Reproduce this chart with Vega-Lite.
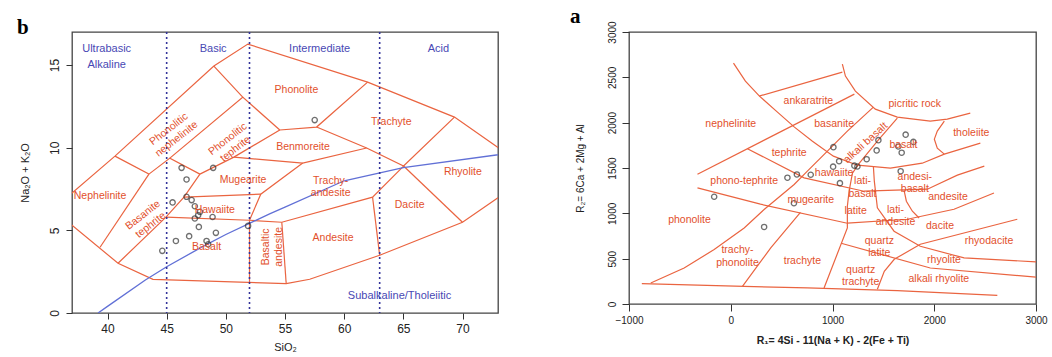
{
"$schema":"https://vega.github.io/schema/vega-lite/v6.json",
"padding":{"left":16,"top":5,"right":8,"bottom":0},
"spacing":70,
"config":{"view":{"stroke":"#444","strokeWidth":1.3},"font":"Liberation Sans",
"axis":{"grid":false,"domain":false,"labelFlush":false,"tickColor":"#333","labelColor":"#222","titleColor":"#222","labelFont":"Liberation Sans","titleFont":"Liberation Sans","titleFontWeight":"normal","tickSize":6}},
"datasets":{
"tasLines":[
{"id":"t1","o":0,"x":35,"y":6.02},{"id":"t1","o":1,"x":37.0,"y":7.25},{"id":"t1","o":2,"x":40.63,"y":9.49},{"id":"t1","o":3,"x":48.99,"y":14.94},{"id":"t1","o":4,"x":51.86,"y":16.27},{"id":"t1","o":5,"x":61.98,"y":13.97},{"id":"t1","o":6,"x":69.32,"y":11.85},{"id":"t1","o":7,"x":75,"y":9.02},
{"id":"t2","o":0,"x":35,"y":6.49},{"id":"t2","o":1,"x":37.0,"y":5.31},{"id":"t2","o":2,"x":40.89,"y":3.01},{"id":"t2","o":3,"x":43.84,"y":2.04},{"id":"t2","o":4,"x":55.1,"y":1.78},{"id":"t2","o":5,"x":57.09,"y":2.04},{"id":"t2","o":6,"x":63.0,"y":3.49},{"id":"t2","o":7,"x":70.0,"y":5.49},{"id":"t2","o":8,"x":75,"y":7.96},
{"id":"t3","o":0,"x":39.37,"y":3.98},{"id":"t3","o":1,"x":43.5,"y":8.4},
{"id":"t4","o":0,"x":40.63,"y":9.49},{"id":"t4","o":1,"x":43.5,"y":8.4},{"id":"t4","o":2,"x":45.27,"y":9.37},{"id":"t4","o":3,"x":47.81,"y":8.4},
{"id":"t5","o":0,"x":45.27,"y":9.37},{"id":"t5","o":1,"x":51.43,"y":13.06},{"id":"t5","o":2,"x":48.99,"y":14.94},
{"id":"t6","o":0,"x":40.89,"y":3.01},{"id":"t6","o":1,"x":44.94,"y":5.8},{"id":"t6","o":2,"x":46.46,"y":7.01},{"id":"t6","o":3,"x":47.81,"y":8.4},
{"id":"t7","o":0,"x":47.81,"y":8.4},{"id":"t7","o":1,"x":50.68,"y":9.43},{"id":"t7","o":2,"x":54.56,"y":11.07},
{"id":"t8","o":0,"x":51.43,"y":13.06},{"id":"t8","o":1,"x":54.56,"y":11.07},
{"id":"t9","o":0,"x":54.56,"y":11.07},{"id":"t9","o":1,"x":57.67,"y":11.25},{"id":"t9","o":2,"x":61.98,"y":13.97},
{"id":"t10","o":0,"x":57.67,"y":11.25},{"id":"t10","o":1,"x":61.9,"y":9.98},{"id":"t10","o":2,"x":65.02,"y":8.89},{"id":"t10","o":3,"x":69.32,"y":11.85},
{"id":"t11","o":0,"x":50.68,"y":9.43},{"id":"t11","o":1,"x":56.5,"y":9.07},{"id":"t11","o":2,"x":61.9,"y":9.98},
{"id":"t12","o":0,"x":56.5,"y":9.07},{"id":"t12","o":1,"x":52.95,"y":7.19},{"id":"t12","o":2,"x":52.0,"y":5.61},
{"id":"t13","o":0,"x":46.46,"y":7.01},{"id":"t13","o":1,"x":52.95,"y":7.19},
{"id":"t14","o":0,"x":44.94,"y":5.8},{"id":"t14","o":1,"x":52.0,"y":5.61},{"id":"t14","o":2,"x":54.73,"y":5.49},{"id":"t14","o":3,"x":62.4,"y":7.01},{"id":"t14","o":4,"x":65.02,"y":8.89},
{"id":"t15","o":0,"x":52.0,"y":5.61},{"id":"t15","o":1,"x":52.0,"y":1.8},
{"id":"t16","o":0,"x":54.73,"y":5.49},{"id":"t16","o":1,"x":55.1,"y":1.78},
{"id":"t17","o":0,"x":62.4,"y":7.01},{"id":"t17","o":1,"x":63.0,"y":3.49},
{"id":"t18","o":0,"x":65.02,"y":8.89},{"id":"t18","o":1,"x":70.0,"y":5.49}
],
"ib":[{"o":0,"x":39.2,"y":0},{"o":1,"x":40,"y":0.4},{"o":2,"x":43.2,"y":2},{"o":3,"x":45,"y":2.8},{"o":4,"x":48,"y":4},{"o":5,"x":50,"y":4.75},{"o":6,"x":53.7,"y":6},{"o":7,"x":55,"y":6.4},{"o":8,"x":60,"y":8},{"o":9,"x":65,"y":8.8},{"o":10,"x":77.4,"y":10}],
"divs":[{"x":45},{"x":52},{"x":63}],
"tasPts":[{"x":57.51,"y":11.67},{"x":46.26,"y":8.78},{"x":48.93,"y":8.78},{"x":46.68,"y":8.08},{"x":45.5,"y":6.69},{"x":46.68,"y":7.03},{"x":47.11,"y":6.83},{"x":47.38,"y":6.46},{"x":47.81,"y":6.12},{"x":47.66,"y":5.92},{"x":47.38,"y":5.72},{"x":48.88,"y":5.81},{"x":47.72,"y":5.21},{"x":51.88,"y":5.27},{"x":45.78,"y":4.36},{"x":46.9,"y":4.65},{"x":49.16,"y":4.85},{"x":48.37,"y":4.36},{"x":48.51,"y":4.16},{"x":44.63,"y":3.76}],
"tasLab":[{"t":"Phonolite","x":55.97,"y":13.48},{"t":"Trachyte","x":63.98,"y":11.53},{"t":"Benmoreite","x":56.52,"y":10.02},{"t":"Rhyolite","x":70.03,"y":8.54},{"t":"Trachy-\nandesite","x":58.86,"y":7.99},{"t":"Dacite","x":65.53,"y":6.52},{"t":"Andesite","x":59.06,"y":4.51},{"t":"Mugearite","x":51.46,"y":8.04},{"t":"Hawaiite","x":49.07,"y":6.22},{"t":"Basalt","x":48.37,"y":4.0},{"t":"Nephelinite","x":39.37,"y":7.07}],
"tasLabDiag":[{"t":"Basanite\ntephrite","x":43.0,"y":5.92},{"t":"Phonolitic\nnephelinite","x":45.19,"y":11.12},{"t":"Phonolitic\ntephrite","x":50.17,"y":10.52}],
"tasLabVert":[{"t":"Basaltic\nandesite","x":53.43,"y":4.0}],
"tasBlue":[{"t":"Ultrabasic","x":39.93,"y":15.97},{"t":"Alkaline","x":39.93,"y":15.0},{"t":"Basic","x":48.93,"y":15.97},{"t":"Intermediate","x":57.93,"y":15.97},{"t":"Acid","x":67.97,"y":15.97},{"t":"Subalkaline/Tholeiitic","x":64.68,"y":1.01}],
"rLines":[
{"id":"a1","o":0,"x":279,"y":2293},{"id":"a1","o":1,"x":1097,"y":2558},
{"id":"a2","o":0,"x":27,"y":2657},{"id":"a2","o":1,"x":144,"y":2458},{"id":"a2","o":2,"x":282,"y":2293},{"id":"a2","o":3,"x":459,"y":2116},{"id":"a2","o":4,"x":626,"y":1951},{"id":"a2","o":5,"x":803,"y":1796},{"id":"a2","o":6,"x":1009,"y":1631},{"id":"a2","o":7,"x":1245,"y":1531},{"id":"a2","o":8,"x":1569,"y":1498},{"id":"a2","o":9,"x":1882,"y":1553},{"id":"a2","o":10,"x":2099,"y":1653},{"id":"a2","o":11,"x":2453,"y":1774},
{"id":"a3","o":0,"x":-327,"y":1432},{"id":"a3","o":1,"x":1215,"y":2315},
{"id":"a4","o":0,"x":1097,"y":2646},{"id":"a4","o":1,"x":1127,"y":2514},{"id":"a4","o":2,"x":1225,"y":2348},{"id":"a4","o":3,"x":1421,"y":2149},{"id":"a4","o":4,"x":1637,"y":2061},{"id":"a4","o":5,"x":1961,"y":2017},{"id":"a4","o":6,"x":2128,"y":2039},{"id":"a4","o":7,"x":2354,"y":2105},
{"id":"a5","o":0,"x":2099,"y":2017},{"id":"a5","o":1,"x":2030,"y":1907},{"id":"a5","o":2,"x":2001,"y":1818},{"id":"a5","o":3,"x":2030,"y":1719},{"id":"a5","o":4,"x":2099,"y":1653},
{"id":"a7","o":0,"x":-874,"y":225},{"id":"a7","o":1,"x":132,"y":195},{"id":"a7","o":2,"x":753,"y":177},{"id":"a7","o":3,"x":1637,"y":148},{"id":"a7","o":4,"x":2620,"y":96},
{"id":"a8","o":0,"x":-786,"y":232},{"id":"a8","o":1,"x":-458,"y":397},{"id":"a8","o":2,"x":-163,"y":601},{"id":"a8","o":3,"x":132,"y":839},{"id":"a8","o":4,"x":328,"y":1042},{"id":"a8","o":5,"x":623,"y":1318},{"id":"a8","o":6,"x":753,"y":1465},{"id":"a8","o":7,"x":950,"y":1686},{"id":"a8","o":8,"x":1146,"y":1907},{"id":"a8","o":9,"x":1402,"y":2172},
{"id":"a9","o":0,"x":-327,"y":1281},{"id":"a9","o":1,"x":292,"y":1101},{"id":"a9","o":2,"x":1146,"y":891},{"id":"a9","o":3,"x":1736,"y":935},{"id":"a9","o":4,"x":2194,"y":1045},{"id":"a9","o":5,"x":2587,"y":1225},
{"id":"a10","o":0,"x":115,"y":195},{"id":"a10","o":1,"x":393,"y":618},{"id":"a10","o":2,"x":685,"y":1011},
{"id":"a11","o":0,"x":917,"y":177},{"id":"a11","o":1,"x":1146,"y":839},{"id":"a11","o":2,"x":1146,"y":1079},{"id":"a11","o":3,"x":1163,"y":1244},{"id":"a11","o":4,"x":1196,"y":1443},{"id":"a11","o":5,"x":1264,"y":1553},{"id":"a11","o":6,"x":1441,"y":1796},{"id":"a11","o":7,"x":1637,"y":2050},
{"id":"a12","o":0,"x":1402,"y":1515},{"id":"a12","o":1,"x":1411,"y":1355},{"id":"a12","o":2,"x":1441,"y":1060},{"id":"a12","o":3,"x":1605,"y":803},{"id":"a12","o":4,"x":1863,"y":637},{"id":"a12","o":5,"x":2293,"y":508},{"id":"a12","o":6,"x":3013,"y":464},
{"id":"a13","o":0,"x":1441,"y":162},{"id":"a13","o":1,"x":1509,"y":361},{"id":"a13","o":2,"x":1607,"y":493},{"id":"a13","o":3,"x":1863,"y":659},{"id":"a13","o":4,"x":2816,"y":935},
{"id":"a14","o":0,"x":1085,"y":670},{"id":"a14","o":1,"x":1961,"y":397},{"id":"a14","o":2,"x":3012,"y":295},
{"id":"a15","o":0,"x":164,"y":1713},{"id":"a15","o":1,"x":721,"y":1391},{"id":"a15","o":2,"x":1310,"y":1244},{"id":"a15","o":3,"x":1932,"y":1266},{"id":"a15","o":4,"x":2227,"y":1421},{"id":"a15","o":5,"x":2492,"y":1520},
{"id":"a16","o":0,"x":1703,"y":1256},{"id":"a16","o":1,"x":1726,"y":1134},{"id":"a16","o":2,"x":1785,"y":1023},{"id":"a16","o":3,"x":1851,"y":949}
],
"rPts":[{"x":1009,"y":1730},{"x":1451,"y":1807},{"x":1434,"y":1694},{"x":1336,"y":1597},{"x":1065,"y":1575},{"x":1006,"y":1515},{"x":1215,"y":1526},{"x":1245,"y":1517},{"x":1719,"y":1868},{"x":1795,"y":1788},{"x":1647,"y":1738},{"x":1680,"y":1669},{"x":1670,"y":1465},{"x":650,"y":1429},{"x":786,"y":1426},{"x":557,"y":1393},{"x":1073,"y":1333},{"x":621,"y":1112},{"x":-163,"y":1183},{"x":328,"y":850}],
"rLab":[{"t":"ankaratrite","x":763,"y":2238},{"t":"picritic rock","x":1808,"y":2208},{"t":"nephelinite","x":0,"y":1987},{"t":"basanite","x":1016,"y":1981},{"t":"tholeiite","x":2364,"y":1881},{"t":"basalt","x":1697,"y":1752},{"t":"tephrite","x":574,"y":1660},{"t":"hawaiite","x":1016,"y":1446},{"t":"phono-tephrite","x":132,"y":1355},{"t":"lati-\nbasalt","x":1295,"y":1354},{"t":"andesi-\nbasalt","x":1809,"y":1406},{"t":"mugearite","x":786,"y":1145},{"t":"phonolite","x":-406,"y":921},{"t":"latite","x":1228,"y":1023},{"t":"lati-\nandesite","x":1619,"y":1042},{"t":"andesite","x":2135,"y":1178},{"t":"dacite","x":2057,"y":858},{"t":"quartz\nlatite","x":1460,"y":698},{"t":"rhyodacite","x":2538,"y":692},{"t":"rhyolite","x":2096,"y":490},{"t":"trachy-\nphonolite","x":66,"y":593},{"t":"trachyte","x":704,"y":470},{"t":"quartz\ntrachyte","x":1277,"y":380},{"t":"alkali rhyolite","x":2045,"y":276}],
"rLabDiag":[{"t":"alkali basalt","x":1326,"y":1778}]
},
"hconcat":[
{"width":426,"height":281,
"title":{"text":"b","anchor":"start","frame":"group","dx":-55,"dy":6,"fontSize":21,"font":"Liberation Serif","fontWeight":"bold","offset":-1,"color":"#000"},
"encoding":{
"x":{"type":"quantitative","scale":{"domain":[37,73],"nice":false,"zero":false},"axis":{"values":[40,45,50,55,60,65,70],"format":"d","title":"SiO₂","labelFontSize":12,"titleFontSize":11,"labelPadding":4,"titlePadding":7}},
"y":{"type":"quantitative","scale":{"domain":[0,17],"nice":false,"zero":false},"axis":{"values":[0,5,10,15],"format":"d","title":"Na₂O + K₂O","labelFontSize":12,"titleFontSize":11,"labelAngle":-90,"labelAlign":"center","labelBaseline":"bottom","labelPadding":5,"titlePadding":18}}},
"layer":[
{"data":{"name":"tasLines"},"mark":{"type":"line","color":"#ea6440","strokeWidth":1.2,"clip":true},"encoding":{"x":{"field":"x","type":"quantitative"},"y":{"field":"y","type":"quantitative"},"detail":{"field":"id"},"order":{"field":"o"}}},
{"data":{"name":"ib"},"mark":{"type":"line","color":"#6170d6","strokeWidth":1.3,"clip":true},"encoding":{"x":{"field":"x","type":"quantitative"},"y":{"field":"y","type":"quantitative"},"order":{"field":"o"}}},
{"data":{"name":"divs"},"mark":{"type":"rule","color":"#34349a","strokeWidth":1.6,"strokeDash":[2,3]},"encoding":{"x":{"field":"x","type":"quantitative"}}},
{"data":{"name":"tasPts"},"mark":{"type":"point","shape":"circle","filled":false,"size":28,"color":"#333","strokeWidth":1.3},"encoding":{"x":{"field":"x","type":"quantitative"},"y":{"field":"y","type":"quantitative"}}},
{"data":{"name":"tasLab"},"mark":{"type":"text","color":"#e2502c","fontSize":10.5,"lineBreak":"\n","baseline":"middle"},"encoding":{"x":{"field":"x","type":"quantitative"},"y":{"field":"y","type":"quantitative"},"text":{"field":"t"}}},
{"data":{"name":"tasLabDiag"},"mark":{"type":"text","color":"#e2502c","fontSize":10.5,"lineBreak":"\n","baseline":"middle","angle":322},"encoding":{"x":{"field":"x","type":"quantitative"},"y":{"field":"y","type":"quantitative"},"text":{"field":"t"}}},
{"data":{"name":"tasLabVert"},"mark":{"type":"text","color":"#e2502c","fontSize":10.5,"lineBreak":"\n","baseline":"middle","angle":270},"encoding":{"x":{"field":"x","type":"quantitative"},"y":{"field":"y","type":"quantitative"},"text":{"field":"t"}}},
{"data":{"name":"tasBlue"},"mark":{"type":"text","color":"#4848b4","fontSize":11,"baseline":"middle"},"encoding":{"x":{"field":"x","type":"quantitative"},"y":{"field":"y","type":"quantitative"},"text":{"field":"t"}}}
]},
{"width":407,"height":272,
"title":{"text":"a","anchor":"start","frame":"group","dx":-59,"dy":6,"fontSize":21,"font":"Liberation Serif","fontWeight":"bold","offset":0,"color":"#000"},
"encoding":{
"x":{"type":"quantitative","scale":{"domain":[-1000,3000],"nice":false,"zero":false},"axis":{"values":[-1000,0,1000,2000,3000],"format":"d","title":"R₁= 4Si - 11(Na + K) - 2(Fe + Ti)","labelFontSize":10,"titleFontSize":10.5,"titleFontWeight":"bold","labelPadding":4,"titlePadding":10,"tickSize":7}},
"y":{"type":"quantitative","scale":{"domain":[0,3000],"nice":false,"zero":false},"axis":{"values":[0,500,1000,1500,2000,2500,3000],"format":"d","title":"R₂= 6Ca + 2Mg + Al","labelFontSize":10,"titleFontSize":10,"labelAngle":-90,"labelAlign":"center","labelBaseline":"bottom","labelPadding":5,"titlePadding":22,"tickSize":7}}},
"layer":[
{"data":{"name":"rLines"},"mark":{"type":"line","color":"#ea6440","strokeWidth":1.2,"clip":true},"encoding":{"x":{"field":"x","type":"quantitative"},"y":{"field":"y","type":"quantitative"},"detail":{"field":"id"},"order":{"field":"o"}}},
{"data":{"name":"rPts"},"mark":{"type":"point","shape":"circle","filled":false,"size":28,"color":"#333","strokeWidth":1.3},"encoding":{"x":{"field":"x","type":"quantitative"},"y":{"field":"y","type":"quantitative"}}},
{"data":{"name":"rLab"},"mark":{"type":"text","color":"#e2502c","fontSize":10.5,"lineBreak":"\n","baseline":"middle"},"encoding":{"x":{"field":"x","type":"quantitative"},"y":{"field":"y","type":"quantitative"},"text":{"field":"t"}}},
{"data":{"name":"rLabDiag"},"mark":{"type":"text","color":"#e2502c","fontSize":10.5,"baseline":"middle","angle":318},"encoding":{"x":{"field":"x","type":"quantitative"},"y":{"field":"y","type":"quantitative"},"text":{"field":"t"}}}
]}
]
}
